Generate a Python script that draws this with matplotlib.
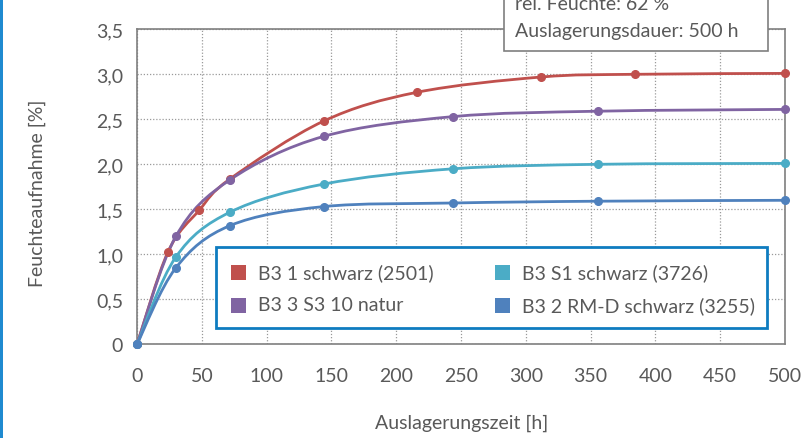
import numpy as np
import matplotlib
matplotlib.use("Agg")
import matplotlib.pyplot as plt
from matplotlib.path import Path
from matplotlib.patches import PathPatch, Rectangle

plt.rcParams['font.family'] = ['Lato', 'DejaVu Sans']

# data
t_red = [0, 24, 48, 72, 144, 216, 312, 384, 500]
y_red = [0, 1.03, 1.49, 1.84, 2.48, 2.80, 2.97, 3.00, 3.01]
t_oth = [0, 30, 72, 144, 244, 356, 500]
y_purple = [0, 1.20, 1.83, 2.31, 2.53, 2.59, 2.61]
y_cyan = [0, 0.97, 1.47, 1.78, 1.95, 2.00, 2.01]
y_blue = [0, 0.85, 1.32, 1.53, 1.57, 1.59, 1.60]

names = ['B3 1 schwarz (2501)', 'B3 3 S3 10 natur',
         'B3 S1 schwarz (3726)', 'B3 2 RM-D schwarz (3255)']
colors = ['#C0504D', '#8064A2', '#4BACC6', '#4F81BD']

FS = 14
TXT = '#595959'

W, H = 802, 439
fig = plt.figure(figsize=(W / 100, H / 100), dpi=100)


def fx(px):
    return px / W


def fy(py):
    return 1 - py / H


ax = fig.add_axes([fx(137), fy(345.3), fx(785) - fx(137), fy(30.3) - fy(345.3)])
ax.set_xlim(0, 500)
ax.set_ylim(0, 3.5)


def smooth_path(x, y):
    # Excel-like smoothed line: bezier segments with catmull-rom control points
    p = np.column_stack([x, y]).astype(float)
    verts = [p[0]]
    codes = [Path.MOVETO]
    n = len(p)
    for i in range(n - 1):
        p0 = p[i - 1] if i > 0 else p[i]
        p1, p2 = p[i], p[i + 1]
        p3 = p[i + 2] if i + 2 < n else p[i + 1]
        c1 = p1 + (p2 - p0) / 6
        c2 = p2 - (p3 - p1) / 6
        verts += [c1, c2, p2]
        codes += [Path.CURVE4] * 3
    return Path(verts, codes)


series = [(t_red, y_red), (t_oth, y_purple), (t_oth, y_cyan), (t_oth, y_blue)]
for (tx, ty), c in zip(series, colors):
    ax.add_patch(PathPatch(smooth_path(tx, ty), facecolor='none', edgecolor=c,
                           lw=2.0, zorder=3, capstyle='round'))
    ax.plot(tx, ty, 'o', color=c, ms=5.5, zorder=4, clip_on=False)

yt = np.arange(0, 3.51, 0.5)
ax.set_xticks(np.arange(0, 501, 50))
ax.set_yticks(yt)
ax.set_yticklabels(['0' if v == 0 else f'{v:.1f}'.replace('.', ',') for v in yt])
ax.grid(True, color='#9a9a9a', ls=(0, (1, 1.5)), lw=0.9)
for s in ax.spines.values():
    s.set_color('#7f7f7f')
    s.set_linewidth(1.2)
ax.tick_params(length=0, labelsize=FS, colors=TXT)
ax.tick_params(axis='x', pad=16)
ax.tick_params(axis='y', pad=10)

fig.text(fx(462), fy(423), 'Auslagerungszeit [h]', ha='center', va='center',
         fontsize=FS, color=TXT)
fig.text(fx(37), fy(193), 'Feuchteaufnahme [%]', ha='center', va='center',
         rotation=90, fontsize=FS, color=TXT)

# legend box
fig.patches.append(Rectangle((fx(216), fy(329)), fx(767) - fx(216), fy(247.5) - fy(329),
                             transform=fig.transFigure, facecolor='white',
                             edgecolor='#0E7CC0', lw=2.0, zorder=5))
leg_pos = [(231, 273), (231, 306), (495, 273), (495, 306)]
for (lx, ly), name, c in zip(leg_pos, names, colors):
    fig.patches.append(Rectangle((fx(lx), fy(ly + 7.5)), fx(15), 15 / H,
                                 transform=fig.transFigure, facecolor=c,
                                 edgecolor='none', zorder=6))
    fig.text(fx(lx + 27), fy(ly), name, ha='left', va='center', fontsize=FS,
             color=TXT, zorder=7)

# info box at top
fig.patches.append(Rectangle((fx(504), fy(51.7)), fx(768) - fx(504), fy(-20) - fy(51.7),
                             transform=fig.transFigure, facecolor='white',
                             edgecolor='#7f7f7f', lw=1.2, zorder=5))
fig.text(fx(515), fy(5), 'rel. Feuchte: 62 %', ha='left', va='center', fontsize=FS,
         color=TXT, zorder=7)
fig.text(fx(515), fy(32), 'Auslagerungsdauer: 500 h', ha='left', va='center', fontsize=FS,
         color=TXT, zorder=7)

# blue frame edge at left
fig.patches.append(Rectangle((0, 0), fx(3), 1, transform=fig.transFigure,
                             facecolor='#1F8AD0', edgecolor='none'))

fig.savefig('out.png', dpi=100)
